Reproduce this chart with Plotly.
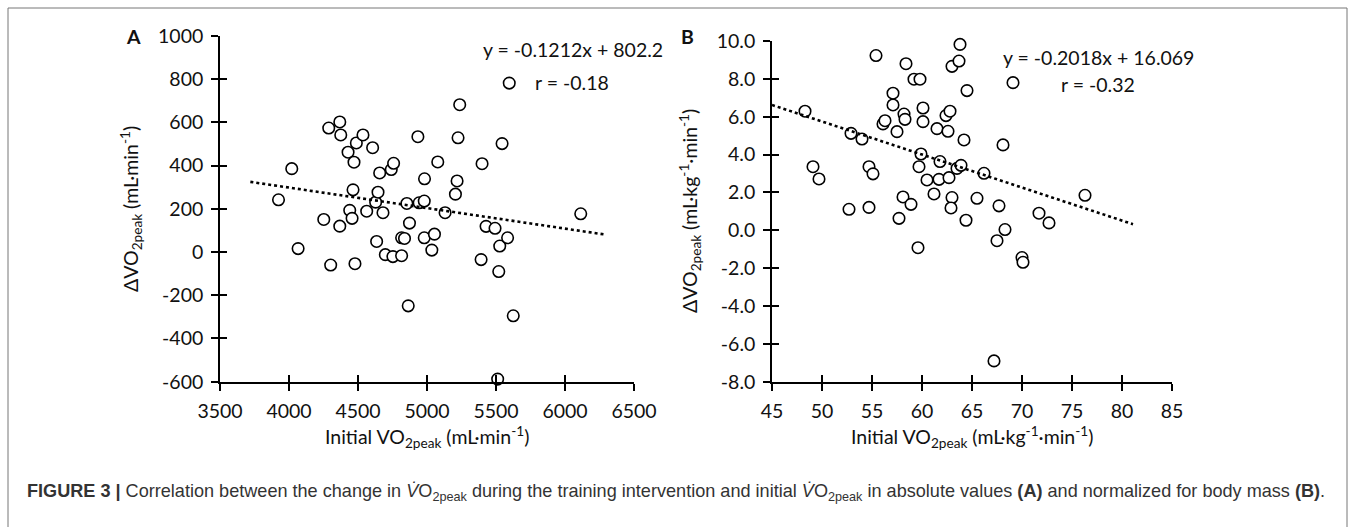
import plotly.graph_objects as go

W, H = 1357, 527

# ---------------- data: panel A ----------------
a_x = [3924, 4020, 4066, 4252, 4288, 4302, 4368, 4375, 4368, 4428, 4471, 4464, 4440, 4457,
       4488, 4478, 4536, 4563, 4606, 4635, 4628, 4645, 4657, 4681, 4698, 4741, 4758, 4753,
       4816, 4816, 4837, 4854, 4873, 4864, 4934, 4943, 4980, 4982, 4980, 5035, 5054, 5078,
       5131, 5206, 5218, 5225, 5237, 5392, 5399, 5428, 5493, 5527, 5520, 5544, 5584, 5596,
       5625, 5512, 6114]
a_y = [242, 386, 16, 151, 574, -60, 602, 542, 120, 462, 416, 288, 193, 156,
       505, -54, 542, 189, 483, 49, 231, 277, 366, 182, -12, 382, 411, -21,
       -17, 66, 63, 225, 134, -249, 534, 228, 236, 339, 66, 9, 83, 417,
       182, 268, 329, 529, 682, -35, 409, 119, 110, 28, -90, 502, 66, 782,
       -295, -588, 177]
a_trend_x = [3720, 6280]
a_trend_y = [325, 82]
a_xticks = [3500, 4000, 4500, 5000, 5500, 6000, 6500]
a_yticks = [-600, -400, -200, 0, 200, 400, 600, 800, 1000]

# ---------------- data: panel B ----------------
b_x = [48.3, 49.1, 49.7, 52.7, 52.9, 54.0, 54.7, 55.1, 54.7, 55.4, 56.1, 56.3, 57.1, 57.1,
       57.5, 57.7, 58.2, 58.3, 58.1, 58.4, 58.9, 59.2, 59.8, 59.6, 59.7, 59.9, 60.1, 60.1,
       60.5, 61.2, 61.5, 61.8, 61.7, 62.4, 62.8, 62.6, 62.7, 63.0, 62.9, 63.0, 63.7, 63.8,
       63.5, 63.9, 64.2, 64.5, 64.4, 65.5, 66.2, 67.2, 67.5, 67.7, 68.1, 68.3, 69.1, 70.0,
       70.1, 71.7, 72.7, 76.3]
b_y = [6.29, 3.36, 2.71, 1.11, 5.12, 4.82, 3.36, 2.98, 1.21, 9.23, 5.62, 5.79, 7.24, 6.62,
       5.21, 0.63, 6.14, 5.86, 1.76, 8.80, 1.37, 7.98, 7.98, -0.92, 3.36, 4.03, 6.46, 5.74,
       2.66, 1.92, 5.37, 3.63, 2.69, 6.06, 6.29, 5.23, 2.78, 1.73, 1.18, 8.66, 8.94, 9.82,
       3.27, 3.43, 4.77, 7.38, 0.53, 1.69, 3.01, -6.90, -0.55, 1.29, 4.51, 0.04, 7.80, -1.44,
       -1.69, 0.90, 0.39, 1.85]
b_trend_x = [45.0, 81.1]
b_trend_y = [6.62, 0.32]
b_xticks = [45, 50, 55, 60, 65, 70, 75, 80, 85]
b_yticks = [-8, -6, -4, -2, 0, 2, 4, 6, 8, 10]

FONT = "Lato"
TICKFONT = dict(family=FONT, size=19.5, color="#111")


def px_x(p):
    return p / W


def px_y(p):
    return 1 - p / H


fig = go.Figure()

marker = dict(symbol="circle", size=11.5, color="white", line=dict(color="black", width=1.6))
fig.add_trace(go.Scatter(x=a_x, y=a_y, mode="markers", marker=marker, xaxis="x", yaxis="y",
                         showlegend=False, cliponaxis=False))
fig.add_trace(go.Scatter(x=b_x, y=b_y, mode="markers", marker=marker, xaxis="x2", yaxis="y2",
                         showlegend=False, cliponaxis=False))
# trend lines sit on overlay axes (same ranges) that also draw the inner halves of the ticks
fig.add_trace(go.Scatter(x=a_trend_x, y=a_trend_y, mode="lines",
                         line=dict(color="black", width=2.6, dash="dot"),
                         xaxis="x3", yaxis="y3", showlegend=False))
fig.add_trace(go.Scatter(x=b_trend_x, y=b_trend_y, mode="lines",
                         line=dict(color="black", width=2.6, dash="dot"),
                         xaxis="x4", yaxis="y4", showlegend=False))

a_xdom = [px_x(220), px_x(634)]
a_ydom = [px_y(381.7), px_y(36)]
b_xdom = [px_x(772), px_x(1172)]
b_ydom = [px_y(381.7), px_y(41)]

common = dict(showgrid=False, zeroline=False, showline=True, linecolor="black", linewidth=1.6,
              ticks="outside", ticklen=7, tickwidth=1.6, tickcolor="black", tickfont=TICKFONT,
              automargin=False, ticklabelstandoff=4)
inner = dict(showgrid=False, zeroline=False, showline=False, ticks="inside", ticklen=7,
             tickwidth=1.6, tickcolor="black", showticklabels=False, automargin=False)

fig.update_layout(
    template="none",
    width=W, height=H, autosize=False,
    margin=dict(l=0, r=0, t=0, b=0, pad=0),
    paper_bgcolor="white", plot_bgcolor="rgba(0,0,0,0)",
    showlegend=False,
    xaxis=dict(domain=a_xdom, range=[a_xticks[0], a_xticks[-1]], tickvals=a_xticks,
               ticktext=[str(v) for v in a_xticks], anchor="y", **common),
    yaxis=dict(domain=a_ydom, range=[a_yticks[0], a_yticks[-1]], tickvals=a_yticks,
               ticktext=[str(v) for v in a_yticks], anchor="x", **common),
    xaxis2=dict(domain=b_xdom, range=[b_xticks[0], b_xticks[-1]], tickvals=b_xticks,
                ticktext=[str(v) for v in b_xticks], anchor="y2", **common),
    yaxis2=dict(domain=b_ydom, range=[b_yticks[0], b_yticks[-1]], tickvals=b_yticks,
                ticktext=[f"{v:.1f}" for v in b_yticks], anchor="x2", **common),
    xaxis3=dict(overlaying="x", domain=a_xdom, range=[a_xticks[0], a_xticks[-1]],
                tickvals=a_xticks, anchor="y3", **inner),
    yaxis3=dict(overlaying="y", domain=a_ydom, range=[a_yticks[0], a_yticks[-1]],
                tickvals=a_yticks, anchor="x3", **inner),
    xaxis4=dict(overlaying="x2", domain=b_xdom, range=[b_xticks[0], b_xticks[-1]],
                tickvals=b_xticks, anchor="y4", **inner),
    yaxis4=dict(overlaying="y2", domain=b_ydom, range=[b_yticks[0], b_yticks[-1]],
                tickvals=b_yticks, anchor="x4", **inner),
)

ann = []
lab = dict(family=FONT, size=19.5, color="#111")


def note(text, x, y, **kw):
    d = dict(text=text, x=px_x(x), y=px_y(y), xref="paper", yref="paper", showarrow=False,
             xanchor="center", yanchor="middle", font=lab)
    d.update(kw)
    ann.append(d)


# axis titles
note("Initial VO<sub>2peak</sub> (mL·min<sup>-1</sup>)", 427, 437)
note("Initial VO<sub>2peak</sub> (mL·kg<sup>-1</sup>·min<sup>-1</sup>)", 972, 437)
note("ΔVO<sub>2peak</sub> (mL·min<sup>-1</sup>)", 131, 209, textangle=-90)
note("ΔVO<sub>2peak</sub> (mL·kg<sup>-1</sup>·min<sup>-1</sup>)", 690, 211, textangle=-90)
# panel letters
note("<b>A</b>", 133, 37)
note("<b>B</b>", 687, 36)
# equations
note("y = -0.1212x + 802.2", 573, 50)
note("r = -0.18", 572, 83)
note("y = -0.2018x + 16.069", 1098, 57)
note("r = -0.32", 1098, 84)
# caption
cap = ("<b>FIGURE 3 |</b> Correlation between the change in <i>V̇</i>O<sub>2peak</sub> during the "
       "training intervention and initial <i>V̇</i>O<sub>2peak</sub> in absolute values <b>(A)</b> "
       "and normalized for body mass <b>(B)</b>.")
note(cap, 25, 492, xanchor="left", font=dict(family="Liberation Sans", size=18.1, color="#333"))
fig.update_layout(annotations=ann)

# figure frame
fig.add_shape(type="rect", xref="paper", yref="paper", x0=px_x(8), x1=px_x(1347),
              y0=-0.05, y1=px_y(8), line=dict(color="#777", width=1))

fig.write_html("out.html", config={"displayModeBar": False},
               post_script="document.body.style.margin='0';document.body.style.overflow='hidden';")
